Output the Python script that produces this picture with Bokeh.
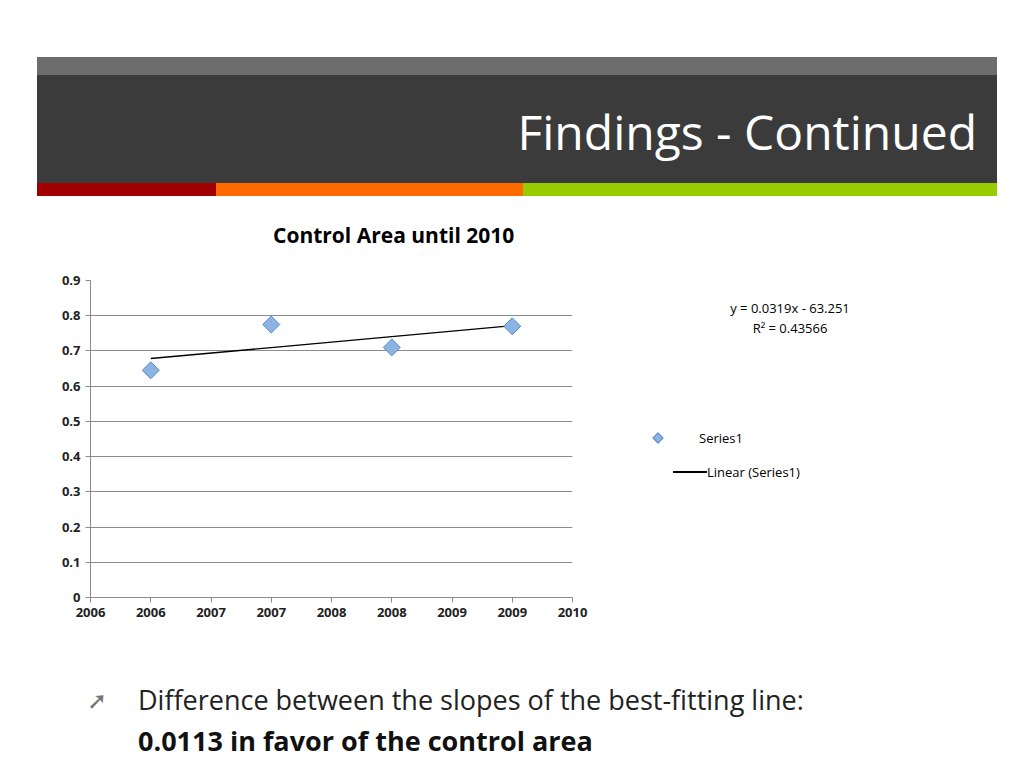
from bokeh.plotting import figure
from bokeh.models import FixedTicker, Div
from bokeh.layouts import column, row
from bokeh.embed import file_html
from bokeh.resources import INLINE
import numpy as np

# data
years = [2006, 2007, 2008, 2009]
area = [0.645, 0.775, 0.71, 0.77]
x_pos = [1, 3, 5, 7]
tick_labels = ["2006", "2006", "2007", "2007", "2008", "2008", "2009", "2009", "2010"]
y_ticks = [0, 0.1, 0.2, 0.3, 0.4, 0.5, 0.6, 0.7, 0.8, 0.9]

slope, icpt = np.polyfit(np.arange(len(area)), area, 1)
trend = [icpt + slope * i for i in range(len(area))]

F = "font-family:'Open Sans';position:absolute;white-space:nowrap;"

header = Div(width=1008, height=250, text=f"""
<div style="position:relative;width:1008px;height:250px;">
 <div style="position:absolute;left:32px;top:52px;width:960px;height:18px;background:#6d6d6d"></div>
 <div style="position:absolute;left:32px;top:70px;width:960px;height:108px;background:#3b3b3b"></div>
 <div style="position:absolute;left:32px;top:178px;width:179px;height:13px;background:#a00000"></div>
 <div style="position:absolute;left:211px;top:178px;width:307px;height:13px;background:#ff6a00"></div>
 <div style="position:absolute;left:518px;top:178px;width:474px;height:13px;background:#99cc00"></div>
 <div style="{F}right:36px;top:92px;font-size:48px;line-height:70px;color:white">Findings - Continued</div>
 <div style="{F}left:268px;top:215px;font-size:21px;line-height:30px;font-weight:bold;color:black">Control Area until 2010</div>
</div>""")

p = figure(width=620, height=380, output_backend="svg", toolbar_location=None,
           x_range=(0, 8), y_range=(0, 0.9),
           min_border_left=90, min_border_top=20, min_border_right=48, min_border_bottom=43)
p.outline_line_color = None
p.xgrid.grid_line_color = None
p.ygrid.grid_line_color = "#8c8c8c"
p.xaxis.ticker = FixedTicker(ticks=list(range(9)))
p.xaxis.major_label_overrides = {i: t for i, t in enumerate(tick_labels)}
p.yaxis.ticker = FixedTicker(ticks=y_ticks)
p.yaxis.major_label_overrides = {0: "0"}
for ax in (p.xaxis, p.yaxis):
    ax.axis_line_color = "#8c8c8c"
    ax.major_tick_line_color = "#8c8c8c"
    ax.minor_tick_line_color = None
    ax.major_tick_out = 5
    ax.major_tick_in = 0
    ax.major_label_text_font = "Open Sans"
    ax.major_label_text_font_size = "13px"
    ax.major_label_text_font_style = "bold"
    ax.major_label_text_color = "#222222"

p.line(x_pos, trend, line_color="black", line_width=1.3)
p.scatter(x_pos, area, marker="square", angle=np.pi / 4, size=12,
          fill_color="#8cb4e2", line_color="#5a8cc8")

side = Div(width=388, height=380, text=f"""
<div style="position:relative;width:388px;height:380px;font-size:13px;color:black">
 <div style="{F}left:636px;left:-40px;width:246px;text-align:center;left:42px;top:33px;line-height:20px">y = 0.0319x - 63.251<br>R² = 0.43566</div>
 <div style="position:absolute;left:29px;top:169px;width:8px;height:8px;background:#8cb4e2;border:1px solid #5a8cc8;transform:rotate(45deg)"></div>
 <div style="{F}left:74px;top:163px;line-height:20px">Series1</div>
 <div style="position:absolute;left:48px;top:206px;width:34px;height:1.5px;background:black"></div>
 <div style="{F}left:82px;top:197px;line-height:20px">Linear (Series1)</div>
</div>""")

bullets = Div(width=1008, height=138, text=f"""
<div style="position:relative;width:1008px;height:138px;color:#222">
 <div style="{F}left:82px;top:27px;font-size:24px;line-height:36px;color:#777">➚</div>
 <div style="{F}left:133px;top:25px;font-size:27px;line-height:40px">Difference between the slopes of the best-fitting line:</div>
 <div style="{F}left:133px;top:66px;font-size:27px;line-height:40px;font-weight:bold;color:#111">0.0113 in favor of the control area</div>
</div>""")

layout = column(header, row(p, side), bullets)
open("out.html", "w").write(file_html(layout, INLINE))
